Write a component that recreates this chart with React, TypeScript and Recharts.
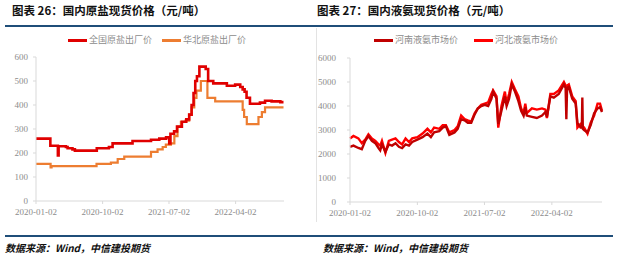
import { LineChart, Line, XAxis, YAxis } from 'recharts'

// ─── Data ────────────────────────────────────────────────────────────────────
// x = days since 2020-01-02

const tickLabels = ['2020-01-02', '2020-10-02', '2021-07-02', '2022-04-02']

// 全国原盐出厂价 (step changes)
const saltNational: [number, number][] = [
  [0, 260], [59, 230], [88, 230], [90, 190], [93, 228], [123, 225], [130, 220],
  [150, 215], [160, 210], [250, 220], [300, 225], [315, 240], [397, 250],
  [473, 255], [507, 260], [535, 265], [548, 240], [553, 280], [568, 290],
  [580, 310], [600, 330], [618, 340], [630, 360], [640, 400], [648, 450],
  [655, 500], [662, 520], [672, 560], [698, 550], [708, 500], [729, 490],
  [785, 480], [819, 485], [840, 475], [850, 465], [858, 455], [866, 430],
  [880, 405], [921, 410], [942, 418], [969, 415], [1005, 412], [1018, 412],
]

// 华北原盐出厂价
const saltNorth: [number, number][] = [
  [0, 155], [60, 140], [64, 145], [249, 155], [308, 160], [336, 175],
  [363, 185], [473, 205], [500, 215], [521, 225], [534, 235], [555, 240],
  [569, 270], [582, 310], [596, 330], [615, 335], [630, 360], [640, 390],
  [651, 430], [660, 460], [678, 500], [705, 430], [737, 415], [842, 415],
  [850, 380], [856, 350], [867, 320], [915, 350], [929, 370], [942, 390],
  [1018, 390],
]

const ammoniaDays = [
  0, 14, 34, 48, 62, 75, 89, 103, 116, 123, 130, 144, 158, 171, 185, 199, 212,
  226, 240, 253, 274, 295, 315, 329, 342, 363, 377, 390, 404, 425, 438, 452,
  466, 479, 493, 507, 520, 534, 548, 562, 575, 582, 596, 603, 616, 630, 637,
  647, 658, 671, 685, 696, 706, 713, 719, 740, 760, 781, 795, 801, 815, 829,
  849, 870, 877, 880, 883, 890, 904, 918, 925, 938, 943, 945, 947, 952, 966,
  979, 993, 1007, 1017, 1025,
]

// 河南液氨市场价
const henanValues = [
  2300, 2350, 2250, 2200, 2550, 2750, 2550, 2450, 2250, 2150, 2400, 2100, 2400,
  2350, 2450, 2300, 2250, 2400, 2350, 2500, 2600, 2700, 2850, 2700, 2900, 2950,
  3100, 3150, 2800, 2900, 3050, 3450, 3400, 3300, 3300, 3650, 3900, 4000, 4050,
  4000, 4300, 4600, 4300, 3250, 3800, 4400, 4000, 4300, 4900, 4600, 4200, 3800,
  3600, 3950, 3600, 3550, 3500, 3600, 3750, 3550, 4400, 4350, 4500, 4900, 4750,
  3450, 4750, 4800, 4300, 4100, 3300, 3100, 3100, 4350, 3050, 3000, 2900, 3200,
  3700, 3900, 3950, 3750,
]

// 河北液氨市场价
const hebeiValues = [
  2650, 2750, 2650, 2450, 2600, 2820, 2650, 2550, 2400, 2350, 2550, 2050, 2550,
  2600, 2650, 2500, 2400, 2650, 2500, 2650, 2700, 2850, 3050, 2900, 3100, 3050,
  3200, 3200, 2900, 3000, 3150, 3600, 3450, 3400, 3350, 3700, 3900, 4050, 4100,
  4150, 4500, 4650, 4400, 3100, 4000, 4600, 4100, 4500, 5000, 4700, 4400, 3900,
  3700, 4100, 3700, 3900, 3850, 3900, 3850, 3500, 4500, 4500, 4650, 5000, 4850,
  4800, 4850, 4900, 4400, 4200, 3100, 3250, 3200, 3150, 3150, 3100, 2850, 3300,
  3600, 4100, 4100, 3800,
]

// ─── Helpers ─────────────────────────────────────────────────────────────────

const BASE = Date.UTC(2020, 0, 2)
const dayOf = (s: string) => {
  const [y, m, d] = s.split('-').map(Number)
  return Math.round((Date.UTC(y, m - 1, d) - BASE) / 86400000)
}
const tickDays = tickLabels.map(dayOf)
const labelOf = (v: number) => tickLabels[tickDays.indexOf(v)] ?? ''

const toRows = (pts: [number, number][]) => pts.map(([d, v]) => ({ d, v }))
const ammoniaRows = ammoniaDays.map((d, i) => ({
  d,
  henan: henanValues[i],
  hebei: hebeiValues[i],
}))

const AXIS = '#d9d9d9'
const TICK = { fontSize: 9, fill: '#8c8c8c', fontFamily: '"Liberation Serif", serif' }
const CJK = '"Noto Sans CJK SC", sans-serif'

function LegendItem({ x, color, text }: { x: number; color: string; text: string }) {
  return (
    <div style={{ position: 'absolute', left: x, top: 34, display: 'flex', alignItems: 'center' }}>
      <div style={{ width: 19, height: 3, background: color, marginRight: 2 }} />
      <span style={{ fontSize: 9, color: '#8c8c8c', fontFamily: CJK, lineHeight: '12px' }}>{text}</span>
    </div>
  )
}

const titleStyle: React.CSSProperties = {
  position: 'absolute',
  top: 2,
  fontSize: 11.5,
  fontWeight: 'bold',
  fontFamily: CJK,
  color: '#111',
  whiteSpace: 'nowrap',
}

const footStyle: React.CSSProperties = {
  position: 'absolute',
  top: 240,
  fontSize: 10,
  fontWeight: 'bold',
  fontStyle: 'italic',
  fontFamily: CJK,
  color: '#111',
  whiteSpace: 'nowrap',
}

export default function App() {
  return (
    <div style={{ position: 'absolute', left: 0, top: 0, width: 618, height: 255, background: '#fff', overflow: 'hidden' }}>
      <div style={{ ...titleStyle, left: 12 }}>图表 26：国内原盐现货价格（元/吨）</div>
      <div style={{ ...titleStyle, left: 317 }}>图表 27：国内液氨现货价格（元/吨）</div>
      <div style={{ position: 'absolute', left: 5, top: 25, width: 608, height: 2, background: '#1f4e79' }} />
      <div style={{ position: 'absolute', left: 316, top: 28, width: 1, height: 194, background: '#e3e3e3' }} />
      <div style={{ position: 'absolute', left: 5, top: 235, width: 608, height: 2, background: '#1f4e79' }} />

      <LegendItem x={68} color="#e00000" text="全国原盐出厂价" />
      <LegendItem x={162} color="#ed7d31" text="华北原盐出厂价" />
      <LegendItem x={374} color="#c00000" text="河南液氨市场价" />
      <LegendItem x={474} color="#ff0000" text="河北液氨市场价" />

      <div style={{ position: 'absolute', left: 0, top: 0 }}>
        <LineChart width={300} height={225} margin={{ top: 57, right: 16, left: 0, bottom: 0 }}>
          <XAxis
            dataKey="d"
            type="number"
            domain={[0, 1020]}
            ticks={tickDays}
            tickFormatter={labelOf}
            tick={TICK}
            stroke={AXIS}
            tickSize={3}
            tickMargin={5}
            height={24}
            allowDataOverflow
          />
          <YAxis
            type="number"
            domain={[0, 600]}
            ticks={[0, 100, 200, 300, 400, 500, 600]}
            tick={TICK}
            stroke={AXIS}
            tickSize={3}
            tickMargin={5}
            width={36}
          />
          <Line data={toRows(saltNorth)} dataKey="v" type="stepAfter" stroke="#ed7d31" strokeWidth={2.2} dot={false} isAnimationActive={false} />
          <Line data={toRows(saltNational)} dataKey="v" type="stepAfter" stroke="#e00000" strokeWidth={2.6} dot={false} isAnimationActive={false} />
        </LineChart>
      </div>

      <div style={{ position: 'absolute', left: 310, top: 0 }}>
        <LineChart width={300} height={226} data={ammoniaRows} margin={{ top: 58, right: 8, left: 0, bottom: 0 }}>
          <XAxis
            dataKey="d"
            type="number"
            domain={[0, 1025]}
            ticks={tickDays}
            tickFormatter={labelOf}
            tick={TICK}
            stroke={AXIS}
            tickSize={3}
            tickMargin={5}
            height={24}
          />
          <YAxis
            type="number"
            domain={[0, 6000]}
            ticks={[0, 1000, 2000, 3000, 4000, 5000, 6000]}
            tick={TICK}
            stroke={AXIS}
            tickSize={3}
            tickMargin={11}
            width={40}
          />
          <Line dataKey="hebei" stroke="#ff0000" strokeWidth={2.4} dot={false} isAnimationActive={false} />
          <Line dataKey="henan" stroke="#c00000" strokeWidth={2.4} dot={false} isAnimationActive={false} />
        </LineChart>
      </div>

      <div style={{ ...footStyle, left: 5 }}>数据来源：Wind，中信建投期货</div>
      <div style={{ ...footStyle, left: 323 }}>数据来源：Wind，中信建投期货</div>
    </div>
  )
}
